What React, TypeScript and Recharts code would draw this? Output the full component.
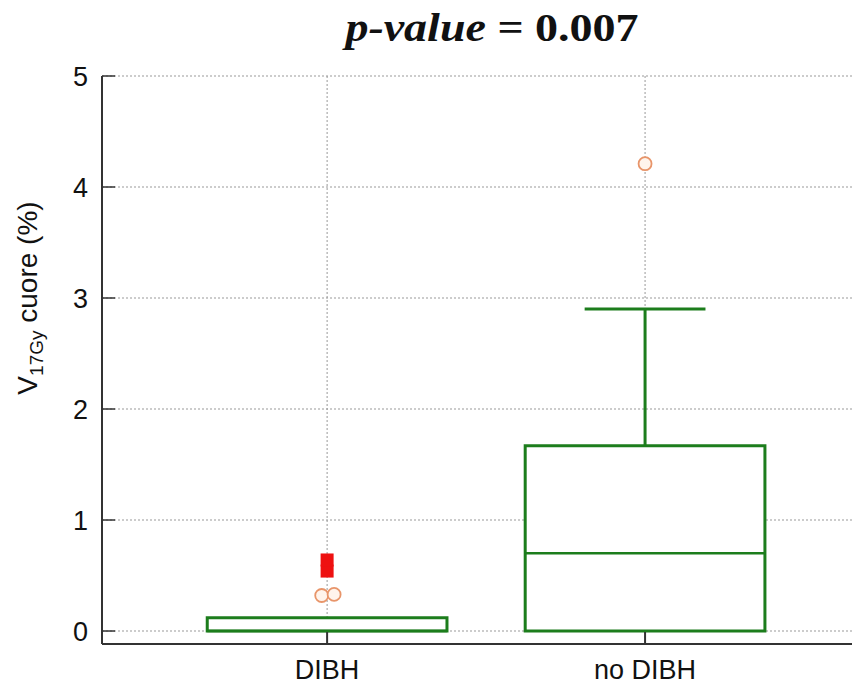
import { ComposedChart, XAxis, YAxis, CartesianGrid, ReferenceArea, ReferenceLine, Scatter } from 'recharts';

// groups and box statistics (V17Gy cuore, %)
const groups = ['DIBH', 'no DIBH'];
const groupPos = [1, 2];
const lowerWhisker = [0, 0];
const q1 = [0, 0];
const median = [0, 0.7];
const q3 = [0.12, 1.67];
const upperWhisker = [0.12, 2.9];

// single values drawn as markers
const outliers = [
  { x: 0.983, y: 0.32 },
  { x: 1.022, y: 0.33 },
  { x: 2, y: 4.21 },
];
const farOut = [
  { x: 1, y: 0.54 },
  { x: 1, y: 0.64 },
];

const yTicks = [0, 1, 2, 3, 4, 5];

const GREEN = '#1c7d1c';
const AXIS = '#333';
const BOX_HALF = 0.377;
const CAP_HALF = 0.19;

const OutlierDot = (props: any) => (
  <circle cx={props.cx} cy={props.cy} r={6.5} fill="#fff4ec" stroke="#e8956a" strokeWidth={1.8} />
);

const FarOutDot = (props: any) => (
  <rect x={props.cx - 6.5} y={props.cy - 6.5} width={13} height={13} fill="#ee1111" />
);

const YLabel = () => (
  <text
    transform="rotate(-90, 37, 298)"
    x={37}
    y={298}
    textAnchor="middle"
    fontFamily="'Liberation Sans', Arial, sans-serif"
    fontSize={28}
    fill="#111"
  >
    V<tspan fontSize={19} dy={6}>17Gy</tspan>
    <tspan dy={-6}> cuore (%)</tspan>
  </text>
);

export default function App() {
  const tickStyle = { fontSize: 27, fill: '#111', fontFamily: "'Liberation Sans', Arial, sans-serif" };
  return (
    <div style={{ position: 'relative', width: 860, height: 689, margin: -8, background: '#fff' }}>
      <div
        style={{
          position: 'absolute',
          left: 492,
          top: 4,
          transform: 'translateX(-50%) scaleX(1.15)',
          whiteSpace: 'nowrap',
          fontFamily: "'Liberation Serif', 'Times New Roman', serif",
          fontWeight: 'bold',
          fontSize: 40,
          lineHeight: '48px',
          color: '#111',
        }}
      >
        <i>p-value</i> = 0.007
      </div>
      <ComposedChart width={860} height={689} margin={{ top: 76, right: 0, bottom: 0, left: 0 }}>
        <CartesianGrid stroke="#999" strokeDasharray="2 2" />
        <XAxis
          dataKey="x"
          type="number"
          domain={[0.292, 2.676]}
          allowDataOverflow
          ticks={groupPos}
          tickFormatter={(v) => groups[groupPos.indexOf(v)] ?? ''}
          height={45}
          tick={tickStyle}
          tickSize={-12}
          tickMargin={28}
          axisLine={{ stroke: AXIS, strokeWidth: 2 }}
          tickLine={{ stroke: AXIS, strokeWidth: 2 }}
        />
        <YAxis
          dataKey="y"
          type="number"
          domain={[-0.117, 5]}
          allowDataOverflow
          ticks={yTicks}
          width={102}
          tick={tickStyle}
          tickSize={-13}
          tickMargin={27}
          axisLine={{ stroke: AXIS, strokeWidth: 2 }}
          tickLine={{ stroke: AXIS, strokeWidth: 1.5 }}
          label={{ content: () => <YLabel /> }}
        />
        {groupPos.map((g, i) => (
          <ReferenceArea
            key={`box-${i}`}
            x1={g - BOX_HALF}
            x2={g + BOX_HALF}
            y1={q1[i]}
            y2={q3[i]}
            fill="#fff"
            fillOpacity={1}
            stroke={GREEN}
            strokeWidth={3}
          />
        ))}
        {groupPos.map((g, i) => (
          <ReferenceLine
            key={`med-${i}`}
            segment={[{ x: g - BOX_HALF, y: median[i] }, { x: g + BOX_HALF, y: median[i] }]}
            stroke={GREEN}
            strokeWidth={2.5}
          />
        ))}
        {groupPos.map((g, i) =>
          upperWhisker[i] > q3[i] ? (
            <ReferenceLine
              key={`wu-${i}`}
              segment={[{ x: g, y: q3[i] }, { x: g, y: upperWhisker[i] }]}
              stroke={GREEN}
              strokeWidth={3}
            />
          ) : null
        )}
        {groupPos.map((g, i) =>
          upperWhisker[i] > q3[i] ? (
            <ReferenceLine
              key={`cu-${i}`}
              segment={[{ x: g - CAP_HALF, y: upperWhisker[i] }, { x: g + CAP_HALF, y: upperWhisker[i] }]}
              stroke={GREEN}
              strokeWidth={3}
            />
          ) : null
        )}
        {groupPos.map((g, i) =>
          lowerWhisker[i] < q1[i] ? (
            <ReferenceLine
              key={`wl-${i}`}
              segment={[{ x: g, y: q1[i] }, { x: g, y: lowerWhisker[i] }]}
              stroke={GREEN}
              strokeWidth={3}
            />
          ) : null
        )}
        <Scatter data={outliers} dataKey="y" shape={<OutlierDot />} isAnimationActive={false} />
        <Scatter data={farOut} dataKey="y" shape={<FarOutDot />} isAnimationActive={false} />
      </ComposedChart>
    </div>
  );
}
